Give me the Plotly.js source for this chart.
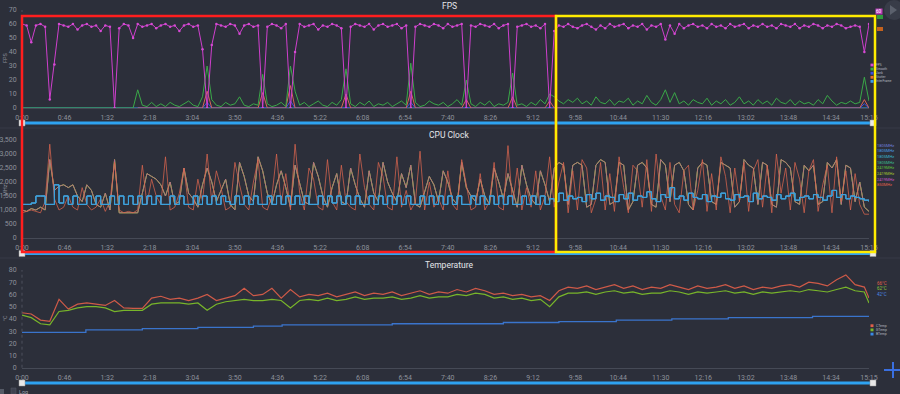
<!DOCTYPE html>
<html><head><meta charset="utf-8">
<script src="https://cdn.plot.ly/plotly-3.0.1.min.js"></script>
<style>html,body{margin:0;padding:0;background:#2c2f3a;} #chart{width:900px;height:394px;}</style>
</head><body><div id="chart"></div>
<script>
// ---------- data ----------
const tickSeconds = [0,46,92,138,184,230,276,322,368,414,460,506,552,598,644,690,736,782,828,874,915];
const tickLabels = ["0:00","0:46","1:32","2:18","3:04","3:50","4:36","5:22","6:08","6:54","7:40","8:26","9:12","9:58","10:44","11:30","12:16","13:02","13:48","14:34","15:15"];
const sampleStep = 5; // seconds between samples of FPS / CPU series

const fps = [
60,59,47,59,60,58,6,31,60,59,
58,60,56,59,60,58,59,55,59,58,
0,57,60,59,50,60,58,59,60,57,
59,60,58,59,55,59,60,58,59,42,
0,45,60,59,58,60,59,53,59,60,
58,59,0,58,60,59,57,60,0,40,
60,58,59,60,56,59,58,60,59,57,
0,58,60,59,58,60,56,59,60,58,
59,60,57,59,0,58,60,59,58,60,
59,57,60,58,59,60,0,59,58,60,
59,58,60,57,59,60,0,58,59,60,
58,59,57,60,0,55,59,58,60,58,
57,59,60,58,56,59,57,60,58,59,
60,57,59,58,60,56,59,58,60,49,
59,53,60,57,59,60,58,59,57,60,
58,59,57,60,58,59,60,57,59,58,
60,58,59,57,60,59,58,60,57,59,
58,60,59,57,59,58,60,59,57,58,
59,58,40,60];
const smooth = [
0,0,0,0,0,0,0,0,0,0,
0,0,0,0,0,0,0,0,0,0,
0,0,0,0,0,13,2,1,4,1,
3,1,4,2,1,3,5,2,1,8,
30,6,2,1,4,2,3,8,2,1,
3,2,24,3,1,2,4,1,30,12,
2,4,1,3,5,2,1,4,2,6,
28,3,1,4,2,5,1,3,2,4,
1,3,5,2,32,4,1,2,5,3,
2,4,1,3,6,2,20,3,1,4,
2,5,1,3,2,4,25,2,3,1,
4,2,6,3,10,8,5,3,6,4,
7,3,5,2,8,4,3,6,2,5,
4,7,2,5,3,9,4,2,6,13,
4,11,3,5,2,6,4,3,7,2,
5,3,6,2,4,8,3,5,2,6,
3,5,2,7,4,3,6,2,5,3,
4,2,6,3,9,5,2,4,3,5,
3,4,22,5];
const stutterTimes = [125,195,200,205,255,260,265,285,290,295,345,350,355,415,420,425,475,480,485,525,530,535,565,570,575,905,910,915];
const stutterVals  = [0,0,12,0,0,11,0,0,16,0,0,10,0,0,12,0,0,6,0,0,8,0,0,5,0,0,6,0];
const jankTimes = [125,195,200,205,285,290,295,415,420,425,905,910,915];
const jankVals  = [0,0,4,0,0,5,0,0,4,0,0,3,0];
const interTimes = [0,915];
const interVals  = [0,0];

const cpuLittle = [
1200,1200,1250,1500,1500,1200,1200,1900,1250,1500,
1200,1500,1200,1200,1500,1200,1500,1200,1200,1500,
1200,1500,1200,1500,1200,1500,1200,1500,1200,1500,
1200,1200,1500,1200,1500,1200,1200,1500,1200,1500,
1200,1500,1200,1500,1300,1200,1500,1200,1500,1200,
1500,1200,1200,1500,1200,1500,1200,1500,1200,1500,
1200,1500,1200,1200,1500,1200,1500,1250,1500,1200,
1500,1200,1500,1200,1200,1500,1200,1500,1200,1500,
1200,1500,1200,1500,1200,1200,1500,1200,1500,1200,
1500,1200,1500,1200,1500,1200,1200,1500,1200,1500,
1200,1500,1200,1500,1200,1500,1200,1200,1500,1200,
1500,1200,1500,1200,1400,1300,1600,1350,1500,1400,
1450,1300,1550,1400,1600,1350,1500,1450,1300,1550,
1400,1600,1350,1500,1450,1650,1400,1300,1550,1450,
1800,1400,1500,1350,1600,1450,1400,1550,1300,1500,
1450,1600,1400,1350,1550,1450,1500,1300,1600,1400,
1500,1450,1350,1550,1400,1500,1600,1350,1450,1500,
1400,1550,1450,1350,1500,1700,1450,1550,1400,1500,
1450,1400,1350,1300];
const cpuBig = [
1000,950,1050,1000,1100,1000,2800,1700,1850,1900,
1800,1900,1500,1300,1900,1700,1200,1100,1600,1000,
2800,900,900,900,900,900,1600,2300,2200,2100,
1900,1500,2000,1200,1300,2500,1600,1400,1100,1900,
2500,2000,1300,1700,2100,1200,1000,2700,2200,1500,
1300,2900,2400,1600,1200,1900,2400,1800,1100,2600,
2000,1300,1200,2700,2200,1500,1100,1800,2300,1300,
1200,2500,1900,1400,1100,2400,1600,1300,2700,2000,
1600,1300,2300,1800,2600,1200,1100,1700,2200,1900,
1300,2400,2000,1400,1200,2700,1800,1500,1300,2100,
1500,1200,2500,2000,1400,2300,1700,1100,2600,1900,
1400,1200,2400,1900,1300,2500,2700,2600,1200,2600,
2700,2600,1100,1200,2600,2800,2700,1200,1300,2700,
2600,1000,1300,2600,2700,2500,1200,1100,2800,2600,
1300,2600,2700,2400,1200,1000,2500,2700,2600,1300,
1200,2700,2600,2500,1100,1300,2800,2600,2500,1200,
2700,2600,1200,1100,2800,2700,2500,1300,1200,2600,
2400,2600,1200,1300,2700,2500,2800,1200,2600,2500,
1300,2000,1100,950];
const cpuPrime = [
900,950,1000,950,900,1300,3350,1400,1000,1100,
1500,1100,1000,1800,1200,1000,1100,1400,950,1300,
2700,1000,900,950,900,1000,2600,1200,2100,1500,
1200,2900,1000,1100,1600,2500,1100,1000,2100,1300,
3000,1300,2400,1800,1000,1100,2700,1900,1200,1000,
2000,2800,1100,1000,1500,3000,1200,2300,1000,3350,
1600,1000,2500,2100,1100,1000,2800,1300,1000,2600,
1300,1100,1000,3000,1800,1200,1000,2700,2200,1100,
1000,2900,1100,1700,1000,1300,3100,1000,2000,1100,
1400,1000,2400,1200,1000,2800,1900,1000,1100,2300,
1000,1300,2700,1100,1000,3300,1200,2500,1000,1800,
1100,2400,1000,1500,2900,1100,2000,2700,900,2400,
1000,2800,2500,900,1400,2700,1000,2300,950,2900,
1800,900,2600,2400,1100,2800,950,3000,1500,1000,
2700,1200,900,2400,2600,1000,1700,2800,950,2300,
1000,2900,2200,900,2500,1300,2700,950,2400,2800,
1100,2600,900,3000,1600,2500,1000,2700,2100,900,
2400,2800,950,1900,2600,900,2900,1300,2400,1000,
2300,1200,850,850];
const cpuNames = ["1805MHz","1805MHz","1805MHz","1805MHz","2419MHz","2419MHz","2419MHz","850MHz"];
const cpuColors = ["#6f7fdc","#4a9ee6","#3ab4cc","#3cbc8c","#5fc03c","#a6c42e","#c957c0","#e0604a"];

const tempTimes = [0,10,20,30,40,50,60,70,80,90,100,110,120,130,140,150,160,170,180,190,200,210,220,230,240,250,260,270,280,290,300,310,320,330,340,350,360,370,380,390,400,410,420,430,440,450,460,470,480,490,500,510,520,530,540,550,560,570,580,590,600,610,620,630,640,650,660,670,680,690,700,710,720,730,740,750,760,770,780,790,800,810,820,830,840,850,860,870,880,890,900,910,915];
const cTemp = [45,44,39,38,56,48,52,53,52,51,55,49,48.5,48.5,57,58.5,56,57,55,57,60,55,57,59,65,59,60,65,57,64,58,60,59,61,58,60,62,59,61,60,62,59,61,63,60,62,61,64,62,65,63,60,61,59,60,58,59,55,63,66,65,67,64,66,68,65,67,64,66,65,68,66,64,67,65,66,68,65,67,64,66,65,67,68,66,70,69,67,72,76,68,66,57];
const gTemp = [43,41,36,35,46,47,49,50,50,49,46,47,47,47,52,53,53,53,52,53,47,52,54,55,56,55,55,56,55,49,55,56,55,57,55,56,58,56,57,57,58,56,57,59,57,58,58,60,59,61,60,57,58,56,57,55,56,50,58,61,61,62,60,62,63,61,62,60,61,61,63,62,60,62,61,62,63,61,62,60,62,61,62,63,62,64,63,62,64,66,63,62,53];
const bTempTimes = [0,69,130,190,250,281,400,520,580,642,702,763,854,915];
const bTemp      = [29,31,32,33,34,35,36,37,37.7,39,40,41,42,42];

// ---------- helpers ----------
const W = 900, H = 394;
const px = v => v / W;
const py = v => 1 - v / H;
const times = arr => arr.map((_, i) => Math.min(i * sampleStep, 915));

const tickFont = {size: 7, color: '#8d919b', family: 'Roboto, Arial, sans-serif'};
function xAxis(anchor) {
  return {domain: [px(22), px(869)], range: [0, 915], tickvals: tickSeconds, ticktext: tickLabels,
    showgrid: false, zeroline: false, showline: true, linecolor: '#464a56', linewidth: 1,
    ticks: 'outside', ticklen: 3, tickcolor: 'rgba(0,0,0,0)', tickfont: tickFont, anchor: anchor, fixedrange: true};
}
function yAxis(anchor, domain, range, dtick, fmt) {
  return {domain: domain, range: range, dtick: dtick, tickformat: fmt || '', showgrid: false, zeroline: false,
    showline: false, ticks: 'outside', ticklen: 3, tickcolor: 'rgba(0,0,0,0)', tickfont: tickFont, anchor: anchor, fixedrange: true};
}

const traces = [];
const ln = (x, y, color, xa, ya, extra) => Object.assign({x: x, y: y, type: 'scatter', mode: 'lines',
  line: {color: color, width: 1}, xaxis: xa, yaxis: ya, hoverinfo: 'skip', showlegend: false}, extra || {});

// FPS panel
traces.push(ln(interTimes, interVals, '#3a9be8', 'x', 'y'));
traces.push(ln(jankTimes, jankVals, '#3c4fe0', 'x', 'y'));
traces.push(ln(stutterTimes, stutterVals, '#d6645a', 'x', 'y'));
traces.push(ln(times(smooth), smooth, '#3aa848', 'x', 'y'));
traces.push(ln(times(fps), fps, '#cf3fcd', 'x', 'y', {mode: 'lines+markers', marker: {size: 2.5, color: '#d64ad4'}}));

// CPU panel: cpu0-3 little, cpu4-6 big, cpu7 prime
const cpuData = [cpuLittle, cpuLittle, cpuLittle, cpuLittle, cpuBig, cpuBig, cpuBig, cpuPrime];
const cpuDraw = ["#6f7fdc","#4a9ee6","#3ab4cc","#3aa0e0","#5fc03c","#a6c42e","#b95f96","#d9654f"];
const order = [4,5,6,7,0,1,2,3];
order.forEach(k => traces.push(ln(times(cpuData[k]), cpuData[k], cpuDraw[k], 'x2', 'y2',
  {line: {color: cpuDraw[k], width: 0.9, shape: k < 4 ? 'hv' : 'linear'}, opacity: k === 3 ? 1 : 0.85})));

// Temperature panel
traces.push(ln(bTempTimes, bTemp, '#3a74cc', 'x3', 'y3', {line: {color: '#3a74cc', width: 1.3, shape: 'hv'}}));
traces.push(ln(tempTimes, gTemp, '#78b52a', 'x3', 'y3', {line: {color: '#78b52a', width: 1.2}}));
traces.push(ln(tempTimes, cTemp, '#cf5a48', 'x3', 'y3', {line: {color: '#cf5a48', width: 1.2}}));

// ---------- decorations ----------
const shapes = [];
const ann = [];
const panels = [[10, 108], [137, 238], [270, 367.7]];
panels.forEach(p => shapes.push({type: 'line', xref: 'paper', yref: 'paper', x0: px(22), x1: px(22), y0: py(p[1]), y1: py(p[0]),
  line: {color: '#4c505c', width: 1, dash: 'dot'}}));
[128, 258].forEach(v => shapes.push({type: 'line', xref: 'paper', yref: 'paper', x0: 0, x1: 1, y0: py(v), y1: py(v), line: {color: '#363a46', width: 1}}));
[123, 253.5, 383].forEach(v => {
  shapes.push({type: 'line', xref: 'paper', yref: 'paper', x0: px(22), x1: px(873), y0: py(v), y1: py(v), line: {color: '#2ea3f2', width: 3}});
  [22, 873].forEach(hx => shapes.push({type: 'rect', xref: 'paper', yref: 'paper', x0: px(hx - 3), x1: px(hx + 3), y0: py(v + 3), y1: py(v - 3),
    fillcolor: '#e8e8e8', line: {color: '#9a9a9a', width: 0.5}}));
});
shapes.push({type: 'rect', xref: 'paper', yref: 'paper', x0: px(22), x1: px(556), y0: py(252), y1: py(16), line: {color: '#ff1e1e', width: 2.5}});
shapes.push({type: 'rect', xref: 'paper', yref: 'paper', x0: px(556), x1: px(875), y0: py(252), y1: py(16), line: {color: '#ffec00', width: 2.5}});
shapes.push({type: 'circle', xref: 'paper', yref: 'paper', x0: px(884), x1: px(904), y0: py(20), y1: py(0), fillcolor: '#383c48', line: {width: 0}});
shapes.push({type: 'path', xref: 'paper', yref: 'paper', path: `M ${px(890)} ${py(5)} L ${px(897)} ${py(10)} L ${px(890)} ${py(15)} Z`, fillcolor: '#5b606c', line: {width: 0}});
shapes.push({type: 'line', xref: 'paper', yref: 'paper', x0: px(884), x1: px(900), y0: py(370), y1: py(370), line: {color: '#3a6fe0', width: 2}});
shapes.push({type: 'line', xref: 'paper', yref: 'paper', x0: px(893), x1: px(893), y0: py(362), y1: py(378), line: {color: '#3a6fe0', width: 2}});
shapes.push({type: 'rect', xref: 'paper', yref: 'paper', x0: px(11), x1: px(16), y0: py(394), y1: py(388), fillcolor: '#3e4250', line: {color: '#555a66', width: 0.5}});
shapes.push({type: 'rect', xref: 'paper', yref: 'paper', x0: px(0), x1: px(4), y0: py(394), y1: py(389), fillcolor: '#555a66', line: {width: 0}});

const A = (x, y, text, opts) => Object.assign({xref: 'paper', yref: 'paper', x: px(x), y: py(y), text: text, showarrow: false, borderpad: 0,
  font: {size: 5, color: '#b4b8c0', family: 'Roboto, Arial, sans-serif'}, xanchor: 'left', yanchor: 'middle'}, opts || {});
ann.push(A(449, 6, 'FPS', {xanchor: 'center', font: {size: 8.5, color: '#e4e6ea', family: 'Roboto, Arial, sans-serif'}}));
ann.push(A(449, 135, 'CPU Clock', {xanchor: 'center', font: {size: 8.5, color: '#e4e6ea', family: 'Roboto, Arial, sans-serif'}}));
ann.push(A(449, 265, 'Temperature', {xanchor: 'center', font: {size: 8.5, color: '#e4e6ea', family: 'Roboto, Arial, sans-serif'}}));
ann.push(A(5, 58, 'FPS', {xanchor: 'center', textangle: -90, font: {size: 5.5, color: '#8d919b'}}));
ann.push(A(5, 190, 'MHz', {xanchor: 'center', textangle: -90, font: {size: 5.5, color: '#8d919b'}}));
ann.push(A(5, 318, '°C', {xanchor: 'center', textangle: -90, font: {size: 5.5, color: '#8d919b'}}));
ann.push(A(18, 391.5, 'Log', {font: {size: 5.5, color: '#a0a4ae'}}));

const fpsLeg = [["FPS", "#d64ad4"], ["Smooth", "#3aa848"], ["Jank", "#3c4fe0"], ["Stutter", "#e8702c"], ["InterFrame", "#3a9be8"]];
fpsLeg.forEach((e, i) => {
  const yy = 65 + i * 4.1;
  shapes.push({type: 'rect', xref: 'paper', yref: 'paper', x0: px(870.5), x1: px(873.5), y0: py(yy + 1.4), y1: py(yy - 1.4), fillcolor: e[1], line: {width: 0}});
  ann.push(A(875, yy, e[0], {font: {size: 3.2, color: '#b4b8c0'}}));
});
ann.push(A(875, 11, '60', {font: {size: 4.5, color: '#ffffff'}, bgcolor: '#b83cb6'}));
shapes.push({type: 'rect', xref: 'paper', yref: 'paper', x0: px(877), x1: px(883), y0: py(19), y1: py(15), fillcolor: '#2f9a3c', line: {width: 0}});
shapes.push({type: 'rect', xref: 'paper', yref: 'paper', x0: px(877), x1: px(883), y0: py(31), y1: py(27), fillcolor: '#c4621e', line: {width: 0}});
cpuNames.forEach((n, i) => ann.push(A(876, 145.3 + i * 5.63, n, {font: {size: 4, color: cpuColors[i]}})));
ann.push(A(876, 283, '66°C', {font: {size: 4.5, color: '#e0604a'}}));
ann.push(A(876, 288.5, '62°C', {font: {size: 4.5, color: '#8cc43a'}}));
ann.push(A(876, 294, '42°C', {font: {size: 4.5, color: '#4a86e0'}}));
[["CTemp", "#e0604a"], ["GTemp", "#7ab82a"], ["BTemp", "#3a8ae8"]].forEach((e, i) => {
  const yy = 325.7 + i * 4.2;
  shapes.push({type: 'rect', xref: 'paper', yref: 'paper', x0: px(870.5), x1: px(873.5), y0: py(yy + 1.4), y1: py(yy - 1.4), fillcolor: e[1], line: {width: 0}});
  ann.push(A(875, yy, e[0], {font: {size: 3.4, color: '#b4b8c0'}}));
});

const layout = {
  width: W, height: H, margin: {l: 0, r: 0, t: 0, b: 0}, autosize: false,
  paper_bgcolor: '#2c2f3a', plot_bgcolor: '#2c2f3a', showlegend: false,
  font: {family: 'Roboto, Arial, sans-serif', color: '#8d919b'},
  xaxis: xAxis('y'), xaxis2: xAxis('y2'), xaxis3: xAxis('y3'),
  yaxis: yAxis('x', [py(108), py(10)], [0, 70], 10),
  yaxis2: yAxis('x2', [py(238), py(137.2)], [0, 3600], 500, ','),
  yaxis3: yAxis('x3', [py(367.7), py(270)], [0, 80], 10),
  shapes: shapes, annotations: ann
};
Plotly.newPlot('chart', traces, layout, {staticPlot: true, displayModeBar: false});
</script></body></html>
